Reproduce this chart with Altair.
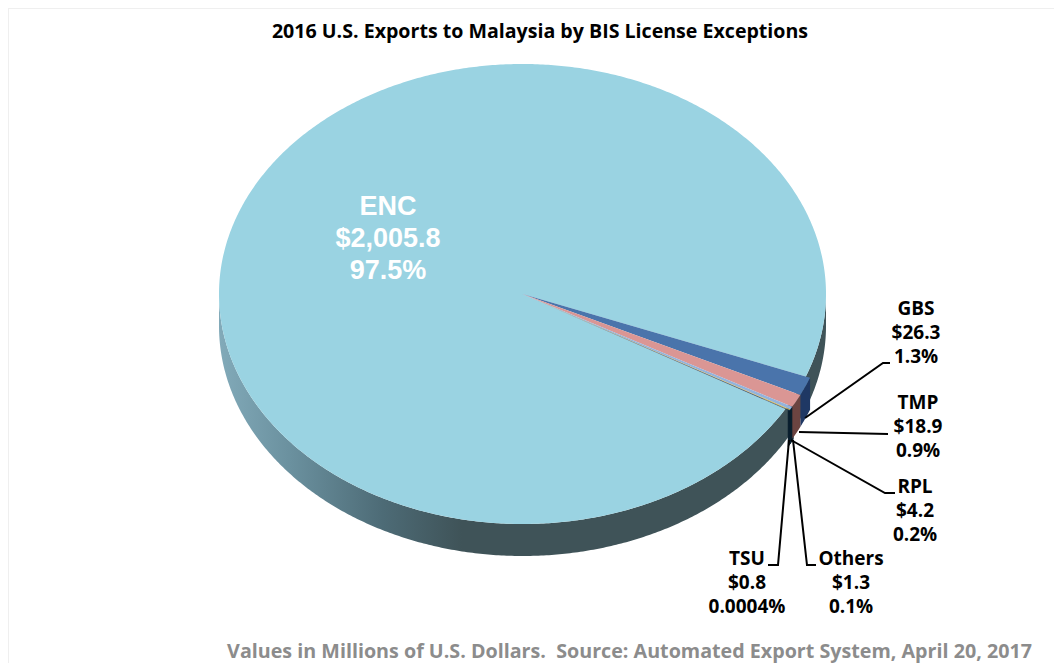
import math
import altair as alt
import pandas as pd

# ---- data ----
categories = ["GBS", "TMP", "RPL", "Others", "TSU", "ENC"]
values = [26.3, 18.9, 4.2, 1.3, 0.8, 2005.8]
value_labels = ["$26.3", "$18.9", "$4.2", "$1.3", "$0.8", "$2,005.8"]
percent_labels = ["1.3%", "0.9%", "0.2%", "0.1%", "0.0004%", "97.5%"]
top_colors = ["#4a74ab", "#da9694", "#93b3dc", "#d2b64c", "#1f3a5c", "#9ad3e2"]
side_colors = ["#1f3864", "#6b4441", "#0a1f2e", "#0a1f2e", "#0a1f2e", None]

title_text = "2016 U.S. Exports to Malaysia by BIS License Exceptions"
source_text = "Values in Millions of U.S. Dollars.\u00a0\u00a0Source: Automated Export System, April 20, 2017"

# ---- layout ----
W, H = 1046, 655
OFF = 8
CX, CY, RX, RY, DEPTH = 522.5, 294, 303.5, 230, 32
START = 21
SMALL_BOOST = 1.015
FONT = "Open Sans"

label_centers = {"GBS": (916, 309), "TMP": (918, 403), "RPL": (915, 487),
                 "Others": (851, 559), "TSU": (747, 559), "ENC": (388, 207)}
leaders = [
    [(805, 418), (883, 363), (890, 363)],
    [(799, 432), (888, 434)],
    [(791, 440), (885, 493), (895, 493)],
    [(793, 440), (807, 565), (816, 565)],
    [(789, 440), (778, 565), (768, 565)],
]


def rim(t, dz=0, k=1.0):
    a = math.radians(t)
    return [CX + k * RX * math.cos(a) - OFF, CY + k * RY * math.sin(a) + dz - OFF]


def span(a, b, dz=0, k=1.0, step=0.5):
    n = max(1, int(abs(b - a) / step))
    return [rim(a + (b - a) * i / n, dz, k) for i in range(n + 1)]


def feature(coords, fill, kind="Polygon"):
    geom = [coords] if kind == "Polygon" else coords
    return {"type": "Feature", "properties": {"fill": fill},
            "geometry": {"type": kind, "coordinates": geom}}


total = sum(values)
angles = []
t = START
for v in values:
    angles.append((t, t + v / total * 360))
    t += v / total * 360

apex = [CX - OFF, CY - OFF]
tops, sides = [], []
for (a, b), top, side in zip(angles, top_colors, side_colors):
    k = SMALL_BOOST if side else 1.0
    tops.append(feature([apex] + span(a, b, 0, k) + [apex], top))
    if side:
        sides.append(feature(span(a, b, 0, k) + span(b, a, DEPTH, k) + [rim(a, 0, k)], side))
# draw the large slice first
tops = [tops[-1]] + tops[:-1]

body = feature(span(0, 180) + span(180, 0, DEPTH) + [rim(0)], "body")
lines = [feature([[x - OFF, y - OFF] for x, y in p], "#000000", "LineString") for p in leaders]
frame = feature([[0, H], [0, 0], [W, 0]], "#efefef", "LineString")


def shapes(feats):
    return alt.Chart(alt.Data(values=feats)).mark_geoshape(strokeWidth=0).encode(
        fill=alt.Fill("properties.fill:N", scale=None)
    ).project(type="identity", scale=1, translate=[0, 0])


def strokes(feats, width):
    return alt.Chart(alt.Data(values=feats)).mark_geoshape(filled=False, strokeWidth=width).encode(
        stroke=alt.Stroke("properties.fill:N", scale=None)
    ).project(type="identity", scale=1, translate=[0, 0])


body_layer = alt.Chart(alt.Data(values=[body])).mark_geoshape(
    strokeWidth=0,
    fill=alt.Gradient(
        gradient="linear", x1=0, x2=1, y1=0, y2=0,
        stops=[
            alt.GradientStop(offset=0, color="#82aab9"),
            alt.GradientStop(offset=0.12, color="#6a909e"),
            alt.GradientStop(offset=0.27, color="#4d6b76"),
            alt.GradientStop(offset=0.40, color="#3f5358"),
            alt.GradientStop(offset=1, color="#3f5358"),
        ],
    ),
).project(type="identity", scale=1, translate=[0, 0])

rows = []
for cat, vl, pct in zip(categories, value_labels, percent_labels):
    x, y = label_centers[cat]
    step = 32 if cat == "ENC" else 24
    for i, s in enumerate([cat, vl, pct]):
        rows.append({"lon": x - OFF, "lat": y + i * step - OFF, "txt": s,
                     "big": cat == "ENC"})
labels = pd.DataFrame(rows)

small = alt.Chart(labels[~labels.big]).mark_text(
    font=FONT, fontWeight="bold", fontSize=19, color="#000000", align="center", baseline="middle"
).encode(longitude="lon:Q", latitude="lat:Q", text="txt:N").project(type="identity", scale=1, translate=[0, 0])
big = alt.Chart(labels[labels.big]).mark_text(
    font="Liberation Sans", fontWeight="bold", fontSize=27, color="#ffffff", align="center", baseline="middle"
).encode(longitude="lon:Q", latitude="lat:Q", text="txt:N").project(type="identity", scale=1, translate=[0, 0])

captions = pd.DataFrame({
    "lon": [540 - OFF, 629.5 - OFF],
    "lat": [32 - OFF, 652 - OFF],
    "txt": [title_text, source_text],
})
title_layer = alt.Chart(captions.iloc[[0]]).mark_text(
    font=FONT, fontWeight="bold", fontSize=19.6, color="#000000", align="center", baseline="middle"
).encode(longitude="lon:Q", latitude="lat:Q", text="txt:N").project(type="identity", scale=1, translate=[0, 0])
source_layer = alt.Chart(captions.iloc[[1]]).mark_text(
    font=FONT, fontWeight="bold", fontSize=19.7, color="#8c8c8c", align="center", baseline="middle"
).encode(longitude="lon:Q", latitude="lat:Q", text="txt:N").project(type="identity", scale=1, translate=[0, 0])

chart = alt.layer(
    strokes([frame], 2),
    body_layer,
    strokes(sides[2:], 3),
    shapes(sides),
    shapes(tops),
    strokes(lines, 2),
    big, small, title_layer, source_layer,
).properties(
    width=W, height=H, padding=0, autosize=alt.AutoSizeParams(type="none"),
    background="#ffffff",
).configure_view(stroke=None)

chart.save("out.html", embed_options={"renderer": "svg", "actions": False})
